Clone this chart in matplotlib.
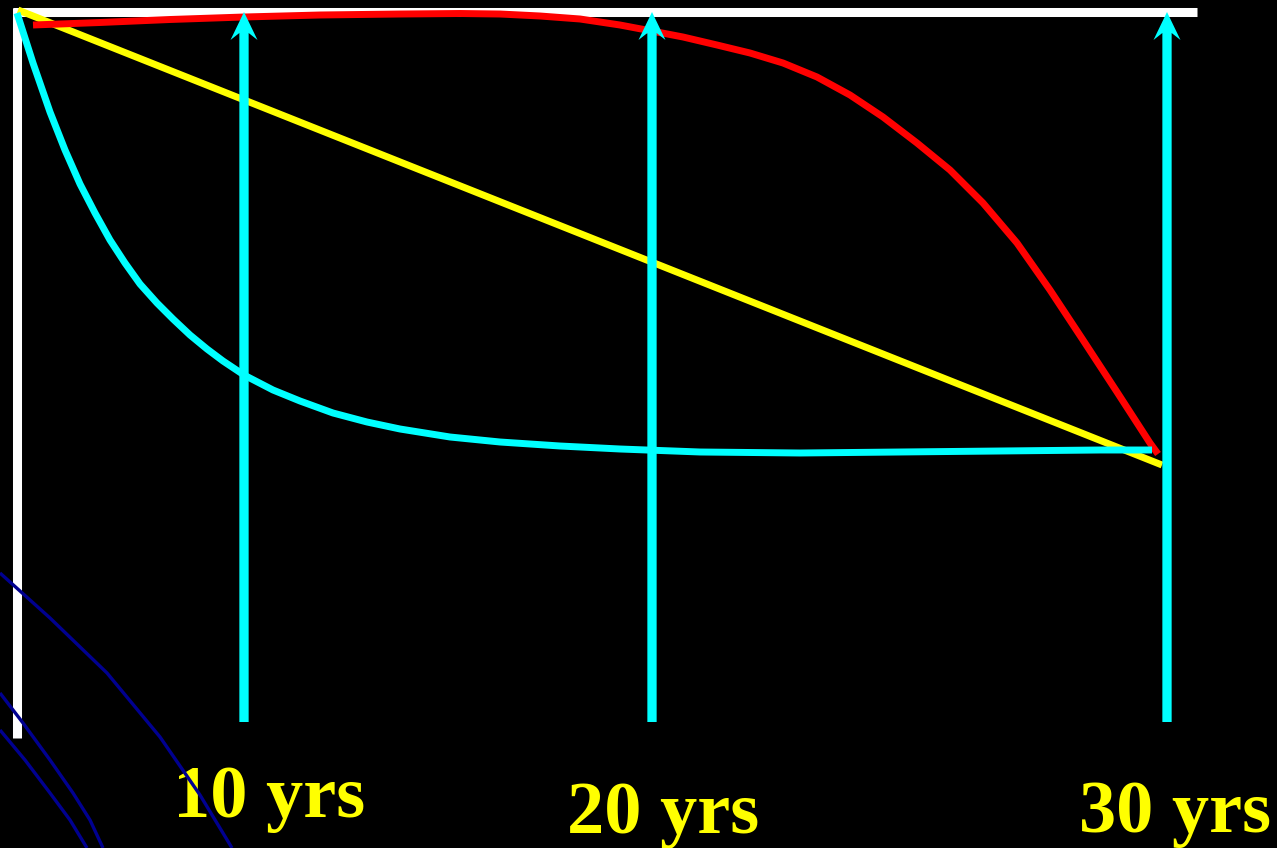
import matplotlib
matplotlib.use("Agg")
import matplotlib.pyplot as plt

# Coordinates are in picture units (x right, y down)
W, H = 1277, 848

# Axis frame (white)
axis_left_x = [17, 17]
axis_left_y = [738, 8]
axis_top_x = [13, 1197]
axis_top_y = [12, 12]

# Yellow: linear decline
yellow_x = [18, 1162]
yellow_y = [10, 465]

# Red: stays high, then falls late
red_x = [33, 100, 170, 244, 320, 400, 460, 500, 540, 580, 620, 657, 683, 717,
         750, 783, 817, 850, 883, 917, 950, 983, 1017, 1050, 1083, 1117,
         1150, 1158]
red_y = [25, 22.5, 19.5, 17, 15, 14, 13.5, 14, 16, 19, 25, 32, 37, 45,
         53, 63, 77, 95, 117, 143, 170, 203, 243, 290, 340, 392,
         443, 454]

# Cyan: rapid early decline, then plateau
cyan_x = [17, 33, 50, 65, 80, 95, 110, 125, 140, 157, 173, 190, 207, 223,
          244, 273, 300, 333, 367, 400, 450, 500, 560, 620, 700, 800, 900,
          1000, 1100, 1152]
cyan_y = [13, 63, 112, 150, 184, 213, 240, 263, 284, 303, 319, 335, 349, 361,
          375, 390, 401, 413, 422, 429, 437, 442, 446, 449, 452, 453, 452,
          451, 450, 450]

# Milestone arrows and labels
milestone_x = [244, 652, 1167]
arrow_bottom = 722
arrow_top = 12
labels = ["10 yrs", "20 yrs", "30 yrs"]
label_x = [269, 663, 1175]
label_y = [817, 833, 832]

# Decorative blue arcs in the lower-left corner
arc1_x = [0, 50, 107, 160, 200, 232]
arc1_y = [573, 618, 673, 737, 795, 848]
arc2_x = [0, 23, 50, 73, 90, 103]
arc2_y = [693, 723, 760, 793, 820, 848]
arc3_x = [0, 25, 50, 70, 87]
arc3_y = [730, 760, 793, 820, 848]

fig = plt.figure(figsize=(W / 100, H / 100), dpi=100, facecolor="black")
ax = fig.add_axes([0, 0, 1, 1])
ax.set_facecolor("black")
ax.set_xlim(0, W)
ax.set_ylim(H, 0)
ax.axis("off")

blue = "#000090"
for xs, ys in [(arc1_x, arc1_y), (arc2_x, arc2_y), (arc3_x, arc3_y)]:
    ax.plot(xs, ys, color=blue, lw=2.4, solid_capstyle="butt",
            solid_joinstyle="round", zorder=7)

ax.plot(axis_left_x, axis_left_y, color="white", lw=6.5, solid_capstyle="butt", zorder=2)
ax.plot(axis_top_x, axis_top_y, color="white", lw=6.5, solid_capstyle="butt", zorder=2)

for x in milestone_x:
    ax.arrow(x, arrow_bottom, 0, arrow_top - arrow_bottom, width=9.3,
             head_width=27, head_length=28, overhang=0.25,
             length_includes_head=True, color="#00FFFF", lw=0, zorder=5)

ax.plot(yellow_x, yellow_y, color="#FFFF00", lw=5, solid_capstyle="butt", zorder=3)
ax.plot(red_x, red_y, color="#FF0000", lw=5, solid_capstyle="butt",
        solid_joinstyle="round", zorder=4)
ax.plot(cyan_x, cyan_y, color="#00FFFF", lw=5, solid_capstyle="butt",
        solid_joinstyle="round", zorder=4)

for lx, ly, t in zip(label_x, label_y, labels):
    ax.text(lx, ly, t, color="#FFFF00", fontsize=53.5, fontweight="bold",
            family="Liberation Serif", ha="center", va="baseline", zorder=6)

fig.savefig("out.png", dpi=100, facecolor="black")
